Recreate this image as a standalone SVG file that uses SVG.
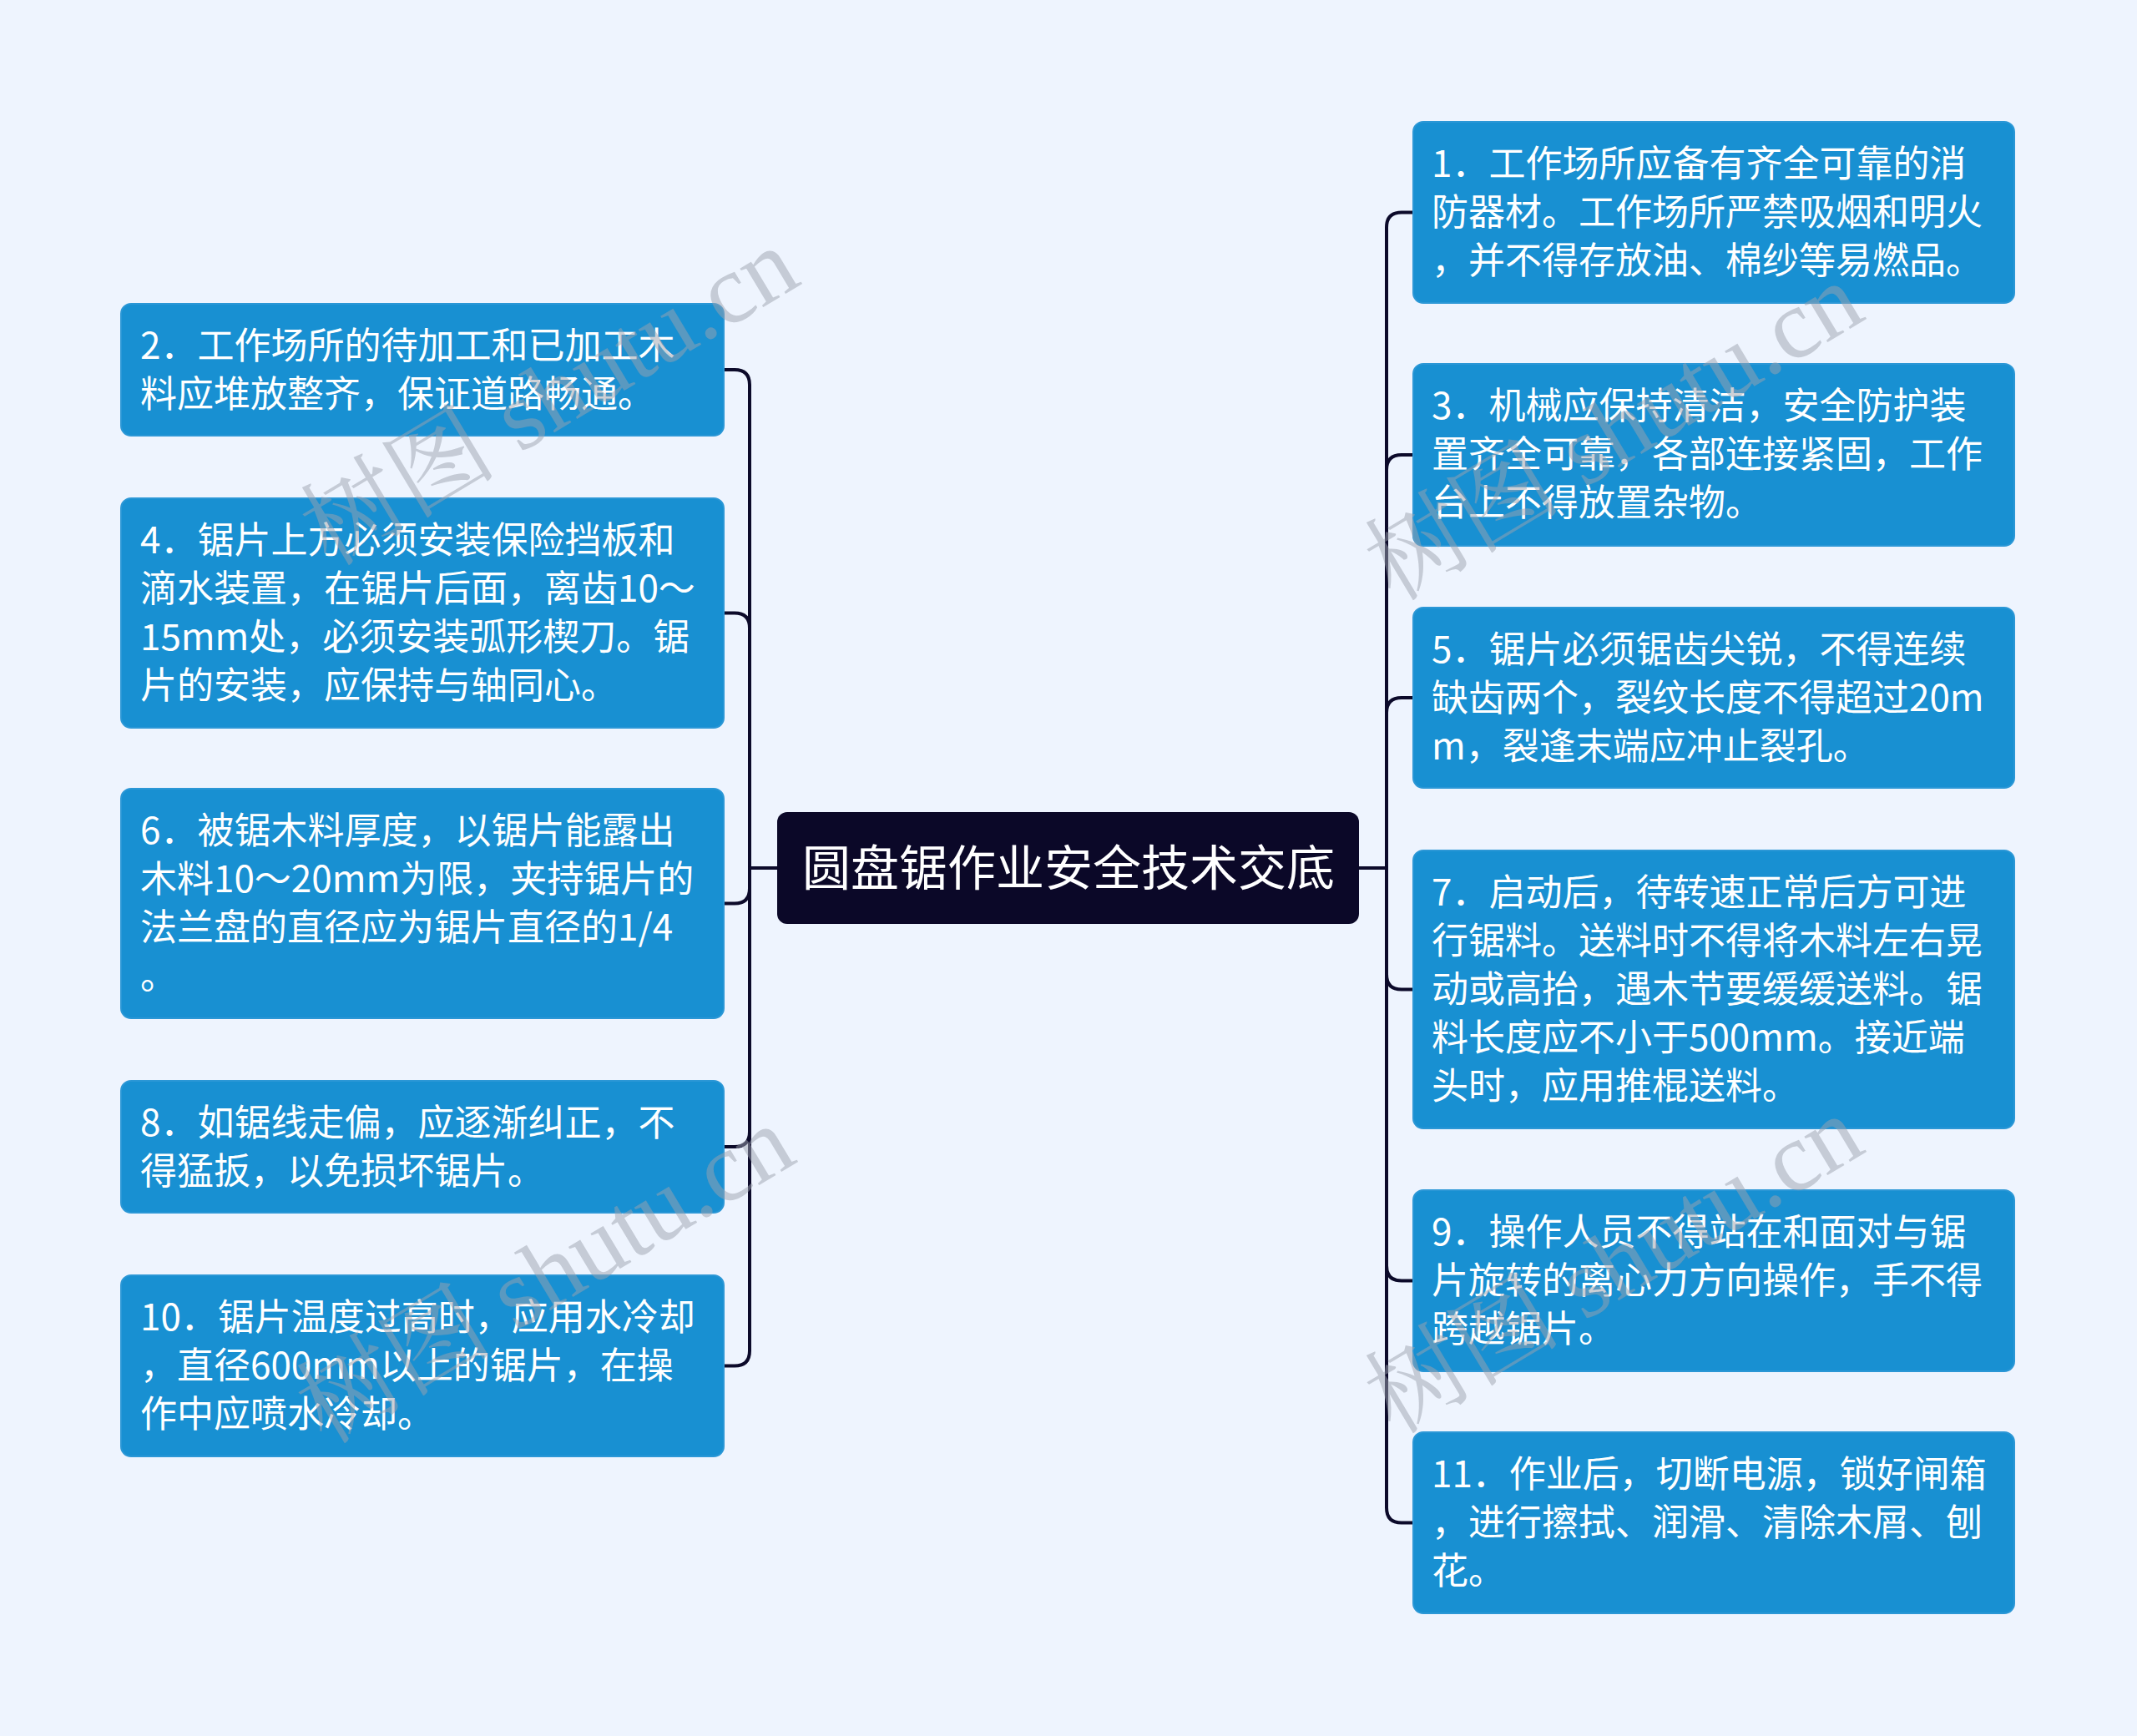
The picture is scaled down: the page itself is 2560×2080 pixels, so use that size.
<svg xmlns="http://www.w3.org/2000/svg" width="2560" height="2080" viewBox="0 0 2560 2080">
<style>
.bg{fill:#eef4fe}
.box{fill:#1890d2;stroke:#2b97d6;stroke-width:2}
.root{fill:#0b0828}
.t{font-family:"Noto Sans CJK SC","Noto Sans",sans-serif;font-size:44px;fill:#ffffff}
.rt{font-family:"Noto Sans CJK SC","Noto Sans",sans-serif;font-size:58px;fill:#ffffff;text-anchor:middle}
.c{fill:none;stroke:#0c0a2a;stroke-width:4;stroke-linecap:round}
.wm{font-family:"Liberation Serif","Noto Serif CJK SC","Noto Sans CJK SC",serif;font-size:118px;fill:#9ba1ae;fill-opacity:0.5}
</style>
<rect class="bg" x="0" y="0" width="2560" height="2080"/>
<g id="connectors">
<path class="c" d="M931,1040 H898"/>
<path class="c" d="M898,1040 V461 Q898,443 880,443 H867"/>
<path class="c" d="M898,1040 V752.5 Q898,734.5 880,734.5 H867"/>
<path class="c" d="M898,1040 V1064.5 Q898,1082.5 880,1082.5 H867"/>
<path class="c" d="M898,1040 V1356 Q898,1374 880,1374 H867"/>
<path class="c" d="M898,1040 V1618.5 Q898,1636.5 880,1636.5 H867"/>
<path class="c" d="M1628,1040 H1661"/>
<path class="c" d="M1661,1040 V272.5 Q1661,254.5 1679,254.5 H1693"/>
<path class="c" d="M1661,1040 V563 Q1661,545 1679,545 H1693"/>
<path class="c" d="M1661,1040 V854 Q1661,836 1679,836 H1693"/>
<path class="c" d="M1661,1040 V1167.5 Q1661,1185.5 1679,1185.5 H1693"/>
<path class="c" d="M1661,1040 V1516.5 Q1661,1534.5 1679,1534.5 H1693"/>
<path class="c" d="M1661,1040 V1806.5 Q1661,1824.5 1679,1824.5 H1693"/>
</g>
<g id="root">
<rect class="root" x="931" y="973" width="697" height="134" rx="12"/>
<text class="rt" x="1280" y="1061">圆盘锯作业安全技术交底</text>
</g>
<g id="n2">
<rect class="box" x="145" y="364" width="722" height="158" rx="12"/>
<text class="t" x="168" y="430">2．工作场所的待加工和已加工木</text>
<text class="t" x="168" y="488">料应堆放整齐，保证道路畅通。</text>
</g>
<g id="n4">
<rect class="box" x="145" y="597" width="722" height="275" rx="12"/>
<text class="t" x="168" y="663">4．锯片上方必须安装保险挡板和</text>
<text class="t" x="168" y="721">滴水装置，在锯片后面，离齿10～</text>
<text class="t" x="168" y="779">15mm处，必须安装弧形楔刀。锯</text>
<text class="t" x="168" y="837">片的安装，应保持与轴同心。</text>
</g>
<g id="n6">
<rect class="box" x="145" y="945" width="722" height="275" rx="12"/>
<text class="t" x="168" y="1011">6．被锯木料厚度，以锯片能露出</text>
<text class="t" x="168" y="1069">木料10～20mm为限，夹持锯片的</text>
<text class="t" x="168" y="1127">法兰盘的直径应为锯片直径的1/4</text>
<text class="t" x="168" y="1185">。</text>
</g>
<g id="n8">
<rect class="box" x="145" y="1295" width="722" height="158" rx="12"/>
<text class="t" x="168" y="1361">8．如锯线走偏，应逐渐纠正，不</text>
<text class="t" x="168" y="1419">得猛扳，以免损坏锯片。</text>
</g>
<g id="n10">
<rect class="box" x="145" y="1528" width="722" height="217" rx="12"/>
<text class="t" x="168" y="1594">10．锯片温度过高时，应用水冷却</text>
<text class="t" x="168" y="1652">，直径600mm以上的锯片，在操</text>
<text class="t" x="168" y="1710">作中应喷水冷却。</text>
</g>
<g id="n1">
<rect class="box" x="1693" y="146" width="720" height="217" rx="12"/>
<text class="t" x="1715" y="212">1．工作场所应备有齐全可靠的消</text>
<text class="t" x="1715" y="270">防器材。工作场所严禁吸烟和明火</text>
<text class="t" x="1715" y="328">，并不得存放油、棉纱等易燃品。</text>
</g>
<g id="n3">
<rect class="box" x="1693" y="436" width="720" height="218" rx="12"/>
<text class="t" x="1715" y="502">3．机械应保持清洁，安全防护装</text>
<text class="t" x="1715" y="560">置齐全可靠，各部连接紧固，工作</text>
<text class="t" x="1715" y="618">台上不得放置杂物。</text>
</g>
<g id="n5">
<rect class="box" x="1693" y="728" width="720" height="216" rx="12"/>
<text class="t" x="1715" y="794">5．锯片必须锯齿尖锐，不得连续</text>
<text class="t" x="1715" y="852">缺齿两个，裂纹长度不得超过20m</text>
<text class="t" x="1715" y="910">m，裂逢末端应冲止裂孔。</text>
</g>
<g id="n7">
<rect class="box" x="1693" y="1019" width="720" height="333" rx="12"/>
<text class="t" x="1715" y="1085">7．启动后，待转速正常后方可进</text>
<text class="t" x="1715" y="1143">行锯料。送料时不得将木料左右晃</text>
<text class="t" x="1715" y="1201">动或高抬，遇木节要缓缓送料。锯</text>
<text class="t" x="1715" y="1259">料长度应不小于500mm。接近端</text>
<text class="t" x="1715" y="1317">头时，应用推棍送料。</text>
</g>
<g id="n9">
<rect class="box" x="1693" y="1426" width="720" height="217" rx="12"/>
<text class="t" x="1715" y="1492">9．操作人员不得站在和面对与锯</text>
<text class="t" x="1715" y="1550">片旋转的离心力方向操作，手不得</text>
<text class="t" x="1715" y="1608">跨越锯片。</text>
</g>
<g id="n11">
<rect class="box" x="1693" y="1716" width="720" height="217" rx="12"/>
<text class="t" x="1715" y="1782">11．作业后，切断电源，锁好闸箱</text>
<text class="t" x="1715" y="1840">，进行擦拭、润滑、清除木屑、刨</text>
<text class="t" x="1715" y="1898">花。</text>
</g>
<g id="watermarks">
<text class="wm" transform="translate(395,680) rotate(-31)">树图 shutu.cn</text>
<text class="wm" transform="translate(1670,722) rotate(-31)">树图 shutu.cn</text>
<text class="wm" transform="translate(390,1732) rotate(-31)">树图 shutu.cn</text>
<text class="wm" transform="translate(1670,1720) rotate(-31)">树图 shutu.cn</text>
</g>
</svg>
